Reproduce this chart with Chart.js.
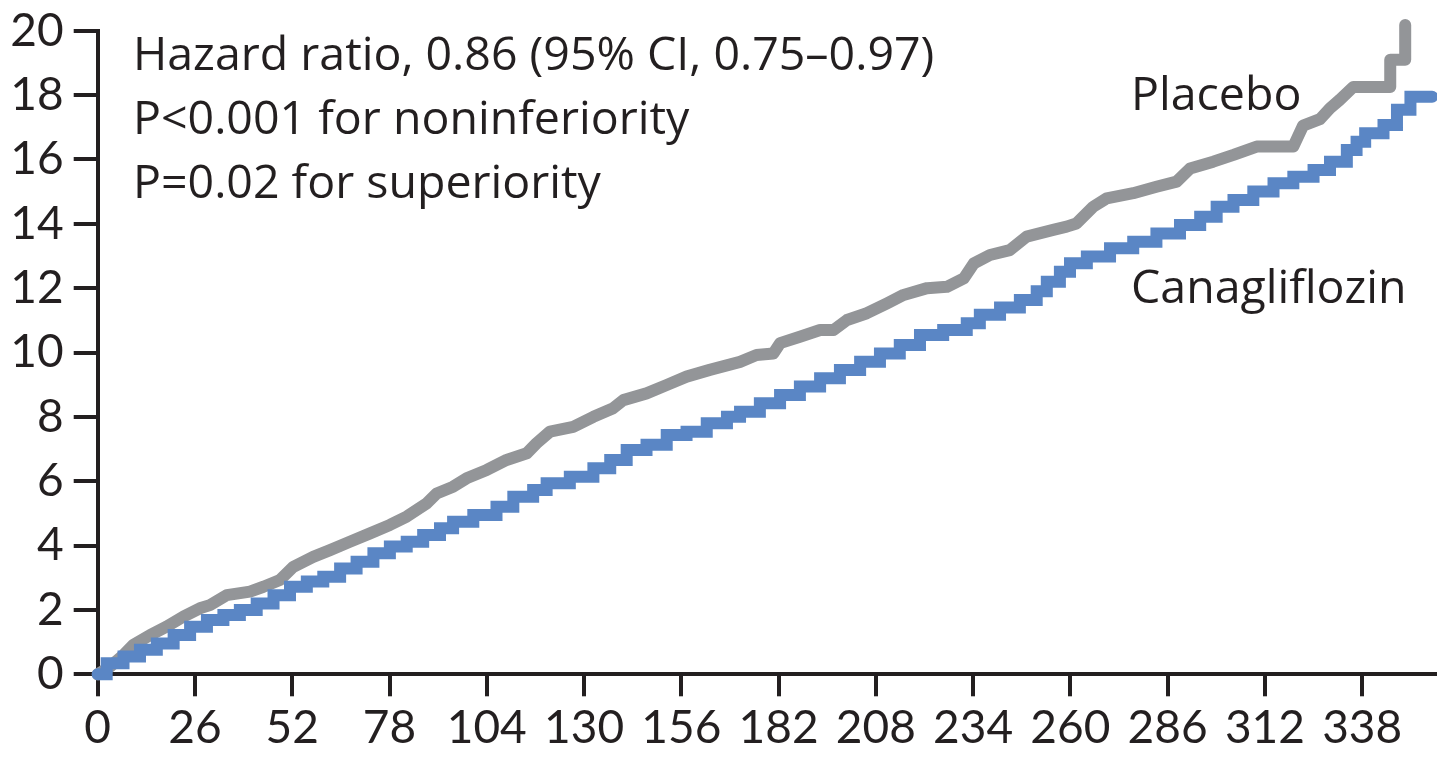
<!DOCTYPE html>
<html><head><meta charset="utf-8">
<script src="https://cdn.jsdelivr.net/npm/chart.js@4.4.1/dist/chart.umd.min.js"></script>
<style>html,body{margin:0;padding:0;background:#fff;overflow:hidden}canvas{display:block}</style>
</head><body>
<canvas id="c" width="1437" height="775"></canvas>
<script>
const xTicks = [0,26,52,78,104,130,156,182,208,234,260,286,312,338];
const yTicks = [0,2,4,6,8,10,12,14,16,18,20];
const seriesNames = ["Canagliflozin","Placebo"];
const statLines = ["Hazard ratio, 0.86 (95% CI, 0.75\u20130.97)","P<0.001 for noninferiority","P=0.02 for superiority"];

const canaX = [0,2.4,6.9,11.3,15.8,20.3,24.7,29.2,33.6,38,42.5,47,51.4,55.9,60.3,64.8,69.2,73.7,78.1,82.6,87,91.5,95,100.4,106.6,111.1,116.4,120,126.2,132.5,137,141.4,146.7,152.1,157.4,162.8,168.2,171.7,177,182.4,187.7,193.1,198.4,203.8,209.1,214.4,219.8,226,232.3,235.8,241.2,246.5,251,253.7,257.2,259.9,264.4,270.6,276.8,283,289.3,294.7,299.1,303.6,308.9,314.3,319.6,325,329.4,333.9,336.5,338.8,343.7,347.3,350.9,356.7];
const canaY = [0,0.34,0.55,0.76,0.96,1.22,1.48,1.69,1.84,2.0,2.2,2.46,2.72,2.88,3.03,3.29,3.5,3.76,3.97,4.12,4.33,4.54,4.74,4.95,5.21,5.52,5.73,5.94,6.14,6.4,6.66,6.97,7.13,7.44,7.54,7.8,8.0,8.16,8.42,8.68,8.94,9.2,9.46,9.71,9.97,10.23,10.54,10.7,10.91,11.17,11.4,11.63,11.9,12.2,12.51,12.77,12.98,13.24,13.44,13.7,13.96,14.22,14.53,14.74,15.0,15.26,15.46,15.67,15.93,16.29,16.55,16.81,17.07,17.54,17.95,17.95];

const placX = [0,3.3,6.9,9.5,14,18.4,22.9,27.3,30,34.5,40.7,44.3,48.7,52.3,57.6,62.1,67.4,72.8,78.1,82.6,87.9,90.6,95,98.6,104,109.3,114.7,117.3,120.9,127.1,132.5,137.8,140.5,146.7,152.1,157.4,163.6,171.7,176.1,180.6,182.4,187.7,193.1,196.7,200.3,205.6,211,215.4,221.7,227,231.5,234.2,238.5,243.8,248.3,255.4,259,261.6,266.1,269.7,276.8,283,288.4,292,298.2,303.6,309.8,319.6,322.2,326.7,329.4,332,335.6,345.5,345.5,349.5,349.5];
const placY = [0,0.24,0.6,0.91,1.22,1.48,1.79,2.05,2.15,2.46,2.57,2.72,2.93,3.34,3.65,3.86,4.12,4.38,4.64,4.9,5.31,5.62,5.83,6.09,6.35,6.66,6.87,7.18,7.54,7.69,8.0,8.27,8.52,8.73,8.99,9.25,9.46,9.71,9.92,9.97,10.29,10.49,10.7,10.7,11.01,11.22,11.53,11.79,12.0,12.04,12.3,12.77,13.03,13.18,13.6,13.81,13.91,14.01,14.53,14.79,14.95,15.15,15.31,15.72,15.93,16.14,16.4,16.4,17.05,17.25,17.59,17.85,18.25,18.25,19.1,19.1,20.18];

const INK = '#231f20';
const TICKFONT = 'Lato';
const TEXTFONT = '"Open Sans"';

const textPlugin = {
  id: 'texts',
  afterDraw(chart) {
    const ctx = chart.ctx;
    ctx.save();
    ctx.fillStyle = INK;
    ctx.font = '46.5px ' + TEXTFONT;
    ctx.textBaseline = 'alphabetic';
    ctx.textAlign = 'left';
    statLines.forEach((t, i) => ctx.fillText(t, 133, 70 + i * 64));
    ctx.fillText(seriesNames[1], 1131, 110);
    ctx.fillText(seriesNames[0], 1131, 303);
    ctx.restore();
  }
};

new Chart(document.getElementById('c'), {
  type: 'line',
  data: {
    datasets: [
      {
        label: seriesNames[0],
        data: canaX.map((x, i) => ({x: x, y: canaY[i]})),
        borderColor: '#5a86c5',
        borderWidth: 12,
        stepped: 'before',
        pointRadius: 0,
        borderCapStyle: 'round',
        borderJoinStyle: 'miter',
        fill: false,
        clip: false
      },
      {
        label: seriesNames[1],
        data: placX.map((x, i) => ({x: x, y: placY[i]})),
        borderColor: '#939598',
        borderWidth: 12,
        tension: 0,
        pointRadius: 0,
        borderCapStyle: 'round',
        borderJoinStyle: 'round',
        fill: false,
        clip: false
      }
    ]
  },
  options: {
    responsive: false,
    animation: false,
    devicePixelRatio: 1,
    layout: {padding: {top: 30.7, left: 0, right: 0, bottom: 0}},
    plugins: {legend: {display: false}, tooltip: {enabled: false}},
    scales: {
      x: {
        type: 'linear', min: 0, max: 358,
        afterBuildTicks: s => { s.ticks = xTicks.map(v => ({value: v})); },
        afterFit: s => { s.height = 100.7; s.paddingLeft = 0; s.paddingRight = 0; },
        grid: {drawOnChartArea: false, drawTicks: true, tickLength: 22, color: INK, lineWidth: 4},
        border: {display: true, color: INK, width: 4},
        ticks: {font: {family: TICKFONT, size: 46}, color: INK, padding: 4, maxRotation: 0, autoSkip: false}
      },
      y: {
        type: 'linear', min: 0, max: 20,
        afterBuildTicks: s => { s.ticks = yTicks.map(v => ({value: v})); },
        afterFit: s => { s.width = 97.7; s.paddingTop = 0; s.paddingBottom = 0; },
        grid: {drawOnChartArea: false, drawTicks: true, tickLength: 24, color: INK, lineWidth: 4},
        border: {display: true, color: INK, width: 4},
        ticks: {font: {family: TICKFONT, size: 46}, color: INK, padding: 10, autoSkip: false}
      }
    }
  },
  plugins: [textPlugin]
});
</script>
</body></html>
